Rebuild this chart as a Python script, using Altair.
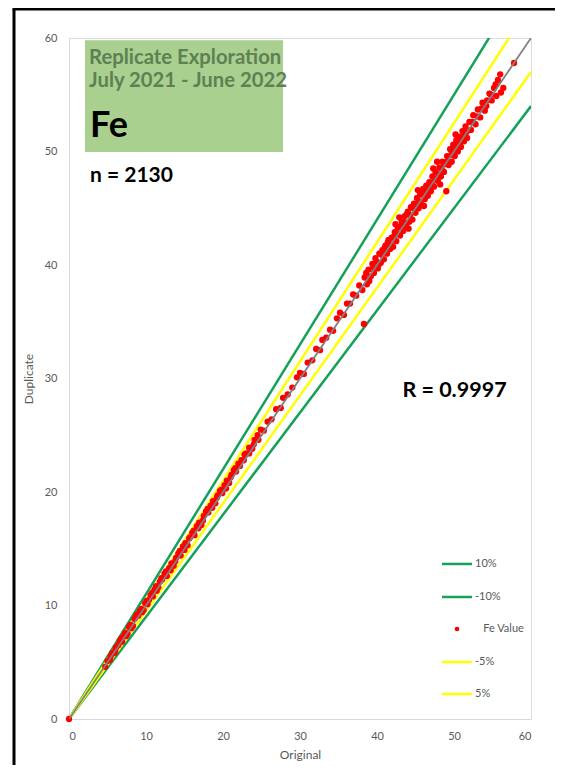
import altair as alt
import pandas as pd

# ---- Data ----
orig = [0.0,
    4.7, 5.0, 5.3, 5.6, 5.9, 6.1, 6.4, 6.6, 6.9, 7.1, 7.3, 7.6, 7.8, 8.0, 8.3, 8.5, 8.7, 9.0, 9.2, 9.4,
    9.7, 9.9, 10.1, 10.4, 10.6, 10.9, 11.1, 11.3, 11.6, 11.8,
    5.4, 6.0, 6.8, 7.4, 8.1, 8.8, 9.5, 10.2, 10.8, 11.4, 12.0,
    12.1, 12.4, 12.7, 13.0, 13.3, 13.6, 13.9, 14.2, 14.5, 14.8, 15.1, 15.4, 15.7, 16.0, 16.3, 16.6, 16.9,
    17.2, 17.5, 17.8, 18.1, 18.4, 18.7, 19.0, 19.3, 19.6, 19.9, 20.2, 20.5, 20.8, 21.1, 21.4, 21.7, 22.0,
    22.4, 22.7, 23.0, 23.4, 23.8, 24.1, 24.5, 24.9,
    12.6, 13.2, 13.8, 14.4, 15.0, 15.6, 16.2, 16.8, 17.4, 18.0, 18.6, 19.2, 19.8, 20.4, 21.0, 21.6, 22.2,
    22.8, 23.4, 24.0, 24.6,
    25.3, 25.8, 26.3, 26.9, 27.5, 27.8, 28.4, 29.0, 29.6, 30.0, 30.5, 31.0, 31.6, 32.1, 32.6, 32.9, 33.4,
    33.9, 34.3, 34.8, 35.2, 35.7, 36.1, 36.5, 36.9, 37.3, 37.7, 38.1, 38.3,
    38.4, 38.7, 38.9, 39.2, 39.4, 39.6, 39.9, 40.1, 40.3, 40.5, 40.7, 40.9, 41.1, 41.3, 41.5, 41.7, 41.9,
    42.1, 42.3, 42.5, 42.7, 42.9, 43.0, 43.2, 43.4, 43.6, 43.8, 44.0, 44.2, 44.4, 44.6, 44.8, 45.0, 45.2,
    45.4, 45.6, 45.8, 46.0, 46.2, 46.4, 46.6, 46.8, 47.0, 47.2, 47.4, 47.6, 47.8, 47.9, 48.1, 48.3, 48.5,
    48.7, 49.0, 49.1, 49.3, 49.5, 49.7, 49.9, 50.1, 50.3, 50.5, 50.7, 50.9, 51.1, 51.3, 51.5, 51.7, 52.0,
    38.6, 39.0, 39.5, 39.8, 40.2, 40.6, 41.0, 41.4, 41.8, 42.2, 42.6, 43.1, 43.5, 43.9, 44.3, 44.7, 45.1,
    45.5, 45.9, 46.3, 46.7, 47.1, 47.5, 48.0, 48.4, 48.8, 49.2, 49.6, 50.0, 50.4, 50.8, 51.2, 51.6,
    44.1, 46.1, 48.2, 45.3, 47.3, 42.4, 50.2,
    52.2, 52.5, 52.8, 53.1, 53.4, 53.7, 54.0, 54.3, 54.6, 54.9, 55.2, 55.5, 55.7, 56.1, 56.0, 56.4, 57.8,
    52.4, 53.0, 53.6, 54.2, 54.8, 55.4]
dup = [0.0,
    4.6, 5.1, 5.2, 5.8, 5.8, 6.3, 6.5, 6.9, 6.8, 7.3, 7.6, 7.5, 8.1, 8.3, 8.2, 8.8, 9.0, 9.1, 9.5, 9.7,
    9.6, 10.2, 10.4, 10.5, 10.9, 10.8, 11.4, 11.7, 11.6, 12.1,
    5.5, 6.0, 7.1, 7.3, 8.0, 9.2, 9.4, 10.1, 11.1, 11.3, 12.4,
    12.3, 12.8, 12.6, 13.3, 13.7, 13.5, 14.2, 14.6, 14.4, 15.2, 15.5, 15.3, 16.0, 16.4, 16.2, 17.0, 17.3,
    17.1, 17.9, 18.3, 18.2, 18.8, 19.2, 19.0, 19.7, 20.1, 19.9, 20.6, 21.0, 20.8, 21.5, 21.9, 21.8, 22.5,
    22.8, 22.8, 23.4, 23.9, 23.8, 24.6, 25.0, 25.5,
    13.0, 13.1, 13.9, 14.8, 14.9, 15.9, 16.6, 16.8, 17.5, 18.5, 18.6, 19.5, 20.2, 20.3, 21.3, 22.1, 22.3,
    23.3, 23.4, 24.2, 24.6,
    25.4, 26.2, 26.4, 27.3, 27.4, 28.3, 28.6, 29.2, 30.1, 30.5, 30.4, 31.4, 31.6, 32.6, 32.5, 33.4, 33.6,
    34.3, 34.2, 35.3, 35.8, 35.6, 36.6, 36.6, 37.4, 37.3, 38.2, 37.8, 34.8,
    38.9, 38.3, 39.6, 39.0, 40.1, 39.3, 40.3, 39.7, 41.0, 40.2, 41.3, 40.5, 41.7, 41.0, 42.2, 41.4, 42.4,
    41.6, 42.9, 42.1, 43.3, 44.2, 42.6, 43.8, 43.0, 44.3, 43.4, 44.7, 43.8, 45.1, 44.0, 45.4, 44.6, 45.9,
    45.0, 46.2, 45.3, 46.7, 45.8, 47.0, 46.1, 47.3, 46.5, 47.8, 46.9, 48.2, 49.1, 47.4, 48.6, 47.8, 49.1,
    48.2, 46.5, 49.6, 48.8, 50.2, 49.1, 50.6, 49.6, 51.0, 50.0, 51.3, 50.4, 51.8, 50.9, 52.2, 51.2, 52.6,
    39.3, 38.6, 39.8, 40.6, 40.0, 40.9, 41.5, 42.0, 41.8, 42.5, 42.8, 43.4, 43.8, 44.5, 44.4, 45.0, 45.3,
    45.6, 46.3, 46.5, 46.8, 47.2, 47.6, 48.0, 48.5, 48.9, 49.2, 49.7, 50.1, 50.5, 50.8, 51.3, 51.7,
    43.2, 45.2, 47.1, 46.6, 48.5, 43.6, 51.5,
    51.9, 53.2, 52.4, 53.7, 53.0, 54.3, 53.6, 54.5, 55.1, 54.5, 55.6, 54.9, 56.3, 55.2, 56.8, 55.6, 57.8,
    52.6, 53.1, 53.8, 54.0, 55.0, 55.9]

line_names = ["10%", "-10%", "-5%", "5%", "1:1"]
line_x = [[0, 60], [0, 60], [0, 60], [0, 60], [0, 60]]
line_y = [[0, 66], [0, 54], [0, 57], [0, 63], [0, 60]]

legend_labels = ["10%", "-10%", "Fe Value", "-5%", "5%"]

title_lines = ["Replicate Exploration", "July 2021 - June 2022"]
element = "Fe"
n_text = "n = 2130"
r_text = "R = 0.9997"

# ---- Styling ----
GREEN = "#14A15A"
YELLOW = "#FFFF00"
GRAY = "#808080"
RED = "#FF0000"
BOXGREEN = "#A9D08E"
FONT = "Lato"
LABEL = "#595959"

pts = pd.DataFrame({"x": orig, "y": dup})
rows = []
for name, xs, ys in zip(line_names, line_x, line_y):
    for xv, yv in zip(xs, ys):
        rows.append({"series": name, "x": xv, "y": yv})
lines = pd.DataFrame(rows)
green_lines = lines[lines.series.isin(["10%", "-10%"])]
yellow_lines = lines[lines.series.isin(["5%", "-5%"])]
gray_line = lines[lines.series == "1:1"]

X = alt.X("x:Q", scale=alt.Scale(domain=[0, 60], nice=False),
          axis=alt.Axis(values=[0, 10, 20, 30, 40, 50, 60], ticks=False, grid=False,
                        domainColor="#D9D9D9", labelColor=LABEL, labelFont=FONT,
                        labelFontSize=11, labelPadding=11, title="Original",
                        titleFont=FONT, titleFontSize=12, titleFontWeight="normal",
                        titleColor=LABEL, titlePadding=8))
Y = alt.Y("y:Q", scale=alt.Scale(domain=[0, 60], nice=False),
          axis=alt.Axis(values=[0, 10, 20, 30, 40, 50, 60], ticks=False, grid=False,
                        domainColor="#D9D9D9", labelColor=LABEL, labelFont=FONT,
                        labelFontSize=11, labelPadding=12, title="Duplicate",
                        titleFont=FONT, titleFontSize=12, titleFontWeight="normal",
                        titleColor=LABEL, titlePadding=9))

# frame around whole chart (left and top edges visible), kept inside the chart box
one = pd.DataFrame({"a": [0]})
frame_left = alt.Chart(one).mark_rule(color="black", strokeWidth=3).encode(
    x=alt.value(-55), y=alt.value(-29), y2=alt.value(727))
frame_top = alt.Chart(one).mark_rule(color="black", strokeWidth=3).encode(
    x=alt.value(-56.5), x2=alt.value(486), y=alt.value(-29))

box_df = pd.DataFrame({"x": [2.08], "x2": [27.8], "y": [49.96], "y2": [59.8]})
box = alt.Chart(box_df).mark_rect(color=BOXGREEN).encode(x=X, x2="x2:Q", y=Y, y2="y2:Q")

green = alt.Chart(green_lines).mark_line(color=GREEN, strokeWidth=2.5, clip=True).encode(
    x=X, y=Y, detail="series:N")
yellow = alt.Chart(yellow_lines).mark_line(color=YELLOW, strokeWidth=2.5, clip=True).encode(
    x=X, y=Y, detail="series:N")
points = alt.Chart(pts).mark_circle(color=RED, size=40, opacity=1).encode(x=X, y=Y)
gray = alt.Chart(gray_line).mark_line(color=GRAY, strokeWidth=1.8, clip=True).encode(x=X, y=Y)

def text_layer(txt, xv, yv, size, color, weight="bold", align="left"):
    return alt.Chart(pd.DataFrame({"x": [xv], "y": [yv], "t": [txt]})).mark_text(
        align=align, baseline="alphabetic", font=FONT, fontSize=size,
        fontWeight=weight, color=color).encode(x=X, y=Y, text="t:N")

t1 = text_layer(title_lines[0], 2.6, 57.7, 20.3, "#5F7F55")
t2 = text_layer(title_lines[1], 2.6, 55.65, 20.3, "#5F7F55")
t3 = text_layer(element, 2.73, 51.3, 36, "black")
t4 = text_layer(n_text, 2.73, 47.3, 21, "black")
t5 = text_layer(r_text, 43.3, 28.4, 21.5, "black")

# manual legend
leg_y = [13.66, 10.75, 7.93, 5.02, 2.20]
leg_colors = [GREEN, GREEN, RED, YELLOW, YELLOW]
leg_df = pd.DataFrame({"label": legend_labels, "y": leg_y, "c": leg_colors})
leg_lines_df = leg_df[leg_df.label != "Fe Value"].assign(x=48.44, x2=52.34)
leg_lines = alt.Chart(leg_lines_df).mark_rule(strokeWidth=2.5).encode(
    x=X, x2="x2:Q", y=Y, color=alt.Color("c:N", scale=None))
leg_dot = alt.Chart(leg_df[leg_df.label == "Fe Value"].assign(x=50.39)).mark_circle(
    color=RED, size=22, opacity=1).encode(x=X, y=Y)
leg_text_df = leg_df.assign(x=[52.73, 52.73, 53.8, 52.73, 52.73])
leg_text = alt.Chart(leg_text_df).mark_text(
    align="left", baseline="middle", font=FONT, fontSize=11, color=LABEL).encode(
    x=X, y=Y, text="label:N")

chart = alt.layer(
    frame_left, frame_top, box, green, yellow, points, gray, t1, t2, t3, t4, t5,
    leg_lines, leg_dot, leg_text
).properties(
    width=462, height=681,
    autosize=alt.AutoSizeParams(type="none"),
    padding={"left": 61, "top": 30, "right": 24, "bottom": 46},
).configure_view(stroke="transparent").configure(background="white")

chart.save("out.html", embed_options={"renderer": "svg", "actions": False})
